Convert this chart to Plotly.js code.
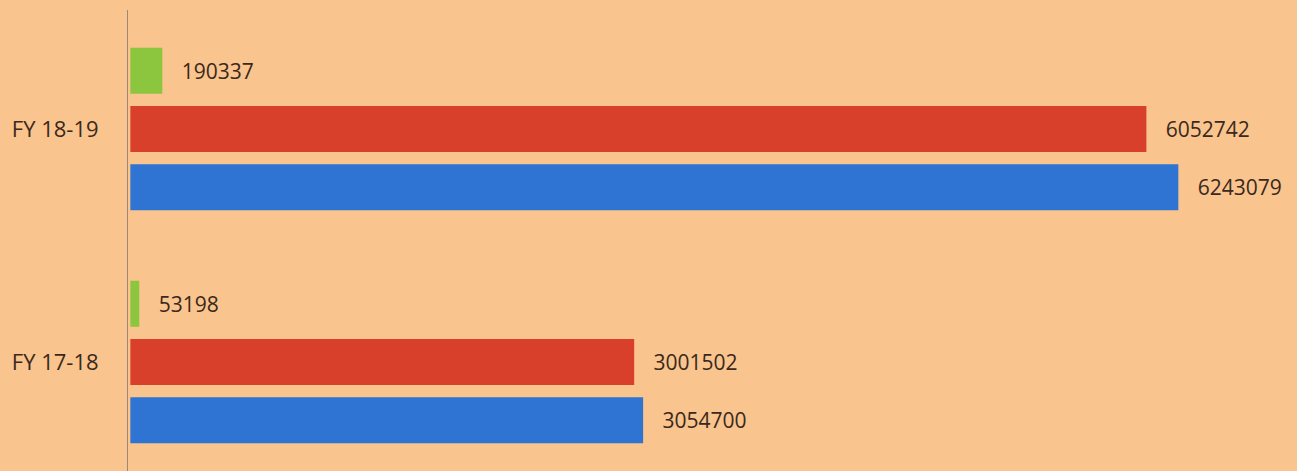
<!DOCTYPE html>
<html>
<head>
<meta charset="utf-8">
<script src="https://cdn.plot.ly/plotly-3.0.1.min.js"></script>
<style>
  html, body { margin: 0; padding: 0; background: #F9C48D; }
  #chart { width: 1297px; height: 471px; }
</style>
</head>
<body>
<div id="chart"></div>
<script>
// Data
const categories = ["FY 17-18", "FY 18-19"];
const greenValues = [53198, 190337];
const redValues = [3001502, 6052742];
const blueValues = [3054700, 6243079];

const textFont = { family: "Open Sans, sans-serif", size: 21, color: "#3a291c" };
const tickFont = { family: "Open Sans, sans-serif", size: 22, color: "#3a291c" };
const pad = "\u00a0\u00a0\u00a0";

function barTrace(values, color) {
  return {
    type: "bar",
    orientation: "h",
    y: categories,
    x: values,
    marker: { color: color },
    text: values.map(v => pad + String(v)),
    textposition: "outside",
    textfont: textFont,
    cliponaxis: false,
    hoverinfo: "x"
  };
}

// Plotly stacks horizontal grouped bars bottom-up, so list blue first
const data = [
  barTrace(blueValues, "#2F74D2"),
  barTrace(redValues, "#D9402C"),
  barTrace(greenValues, "#8CC63E")
];

const layout = {
  width: 1297,
  height: 471,
  margin: { l: 128, r: 0, t: 10, b: 0 },
  paper_bgcolor: "#F9C48D",
  plot_bgcolor: "#F9C48D",
  barmode: "group",
  bargap: 0.25,
  bargroupgap: 0.21,
  showlegend: false,
  xaxis: {
    range: [-14000, 6950000],
    visible: false,
    showgrid: false,
    zeroline: false
  },
  yaxis: {
    type: "category",
    range: [-0.468, 1.511],
    showgrid: false,
    zeroline: false,
    showline: true,
    linecolor: "#9c8874",
    linewidth: 1,
    ticks: "",
    ticklabelstandoff: 24,
    tickfont: tickFont
  }
};

Plotly.newPlot("chart", data, layout, { displayModeBar: false, staticPlot: true });
</script>
</body>
</html>
